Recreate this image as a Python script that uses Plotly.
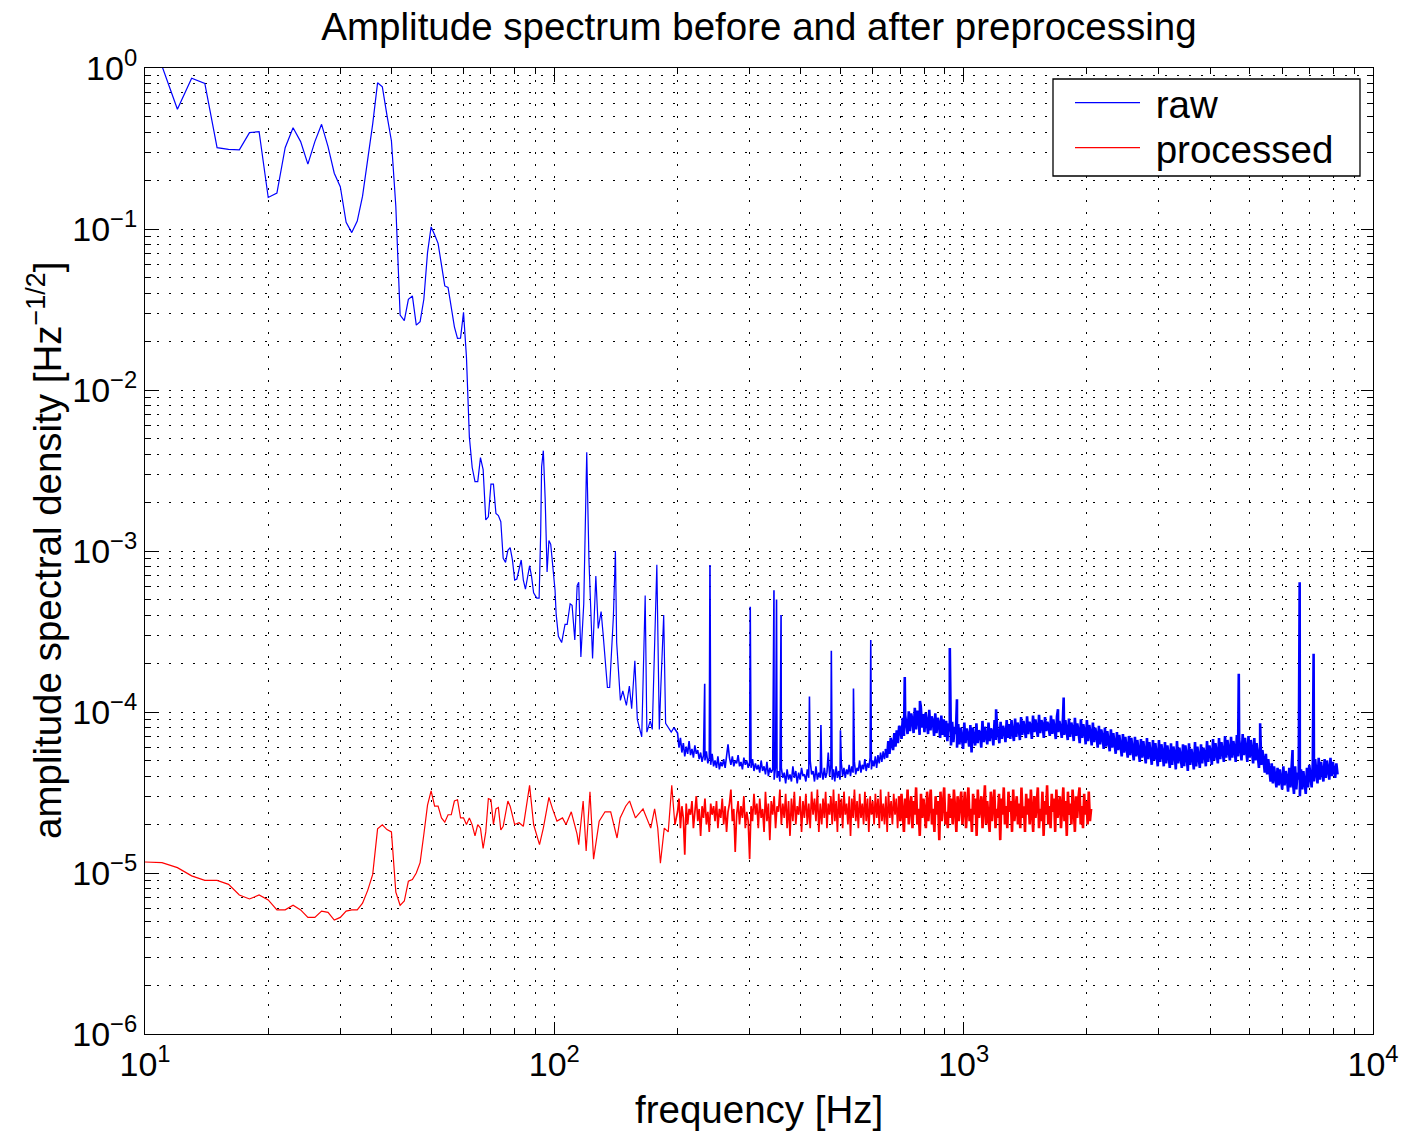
import numpy as np
import plotly.graph_objects as go

# ---------------- raw spectrum ----------------
# low-frequency part, read point by point (Hz, Hz^-1/2)
RAW_LF_FREQ = [10, 11, 12, 13, 14, 15, 16, 17, 18, 19, 20, 21, 22, 23, 24, 25, 26, 27, 28, 29,
               30, 31, 32, 33, 34, 35, 36, 37, 38, 39, 40, 41, 42, 43, 44, 45, 46, 47, 48, 49,
               50, 51, 52, 53, 54, 55, 56, 57, 58, 59, 60, 61, 62, 63, 64, 65, 66, 67, 68, 69,
               70, 71, 72, 73, 74, 75, 76, 77, 78, 79, 80, 81, 83, 84, 85, 87, 88, 89, 90.6, 91.8,
               92.6, 93.1, 94, 95, 96, 97, 98, 99.4, 100.4, 101, 102.3, 104.2, 106.2, 107.5, 109.3,
               110.5, 112.2, 113.7, 114.7, 116.1, 118, 120, 121.5, 124, 126.3, 128, 130.1, 131.5,
               134.8, 136.5, 139.4, 141, 142, 145, 147, 150, 152.5, 154.5, 157.3, 159.5, 161.6,
               163.5, 166.7, 168.3, 171.5, 173.5, 178, 180.5, 182, 185, 187, 190, 193, 196]
RAW_LF_ASD = [1.6, 1.03, 0.554, 0.863, 0.803, 0.320, 0.312, 0.310, 0.397, 0.402, 0.157, 0.167,
              0.320, 0.426, 0.349, 0.253, 0.349, 0.447, 0.325, 0.222, 0.183, 0.110, 0.095, 0.112,
              0.160, 0.262, 0.45, 0.81, 0.765, 0.51, 0.352, 0.138, 0.0292, 0.027, 0.0366, 0.0384,
              0.0253, 0.0266, 0.0366, 0.0713, 0.103, 0.092, 0.0815, 0.0598, 0.0443, 0.0434, 0.033,
              0.0247, 0.0209, 0.021, 0.0304, 0.0160, 0.0051, 0.0033, 0.0027, 0.0027, 0.0038, 0.0032,
              0.00156, 0.00163, 0.0026, 0.0026, 0.00171, 0.00166, 0.00152, 0.0009, 0.00085, 0.00101,
              0.00105, 0.00088, 0.00066, 0.00067, 0.00088, 0.00066, 0.00058, 0.00081, 0.00069,
              0.00055, 0.00051, 0.00051, 0.00129, 0.00334, 0.0042, 0.00207, 0.00074, 0.00116,
              0.0011, 0.00073, 0.00057, 0.00041, 0.000295, 0.00027, 0.00035, 0.00035, 0.00047,
              0.00046, 0.00028, 0.00061, 0.00064, 0.00022, 0.00047, 0.0041, 0.00088, 0.000215,
              0.00070, 0.00033, 0.00042, 0.00031, 0.000142, 0.000142, 0.00039, 0.00100, 0.00027,
              0.000118, 0.000135, 0.00011, 0.000145, 0.000105, 0.000208, 0.00009, 0.000077,
              0.00007, 0.00053, 0.000075, 0.000088, 0.000078, 0.00082, 0.000078, 0.00014, 0.00040,
              0.000085, 0.00008, 0.000075, 0.00008]

# dense part: band edges (Hz) and the noisy values read across each band
# (units of 1e-5 Hz^-1/2)
RAW_BAND_EDGES = [200, 300, 450, 650, 900, 1300, 2000, 3000, 4500, 6000, 8192]
RAW_BAND_E5 = [
    [7.4, 6.0, 6.9, 5.6, 6.4, 5.3, 6.1, 5.5, 6.6, 5.4, 5.9, 5.2, 6.2, 5.5, 5.8, 5.1, 5.6, 4.9,
     5.4, 5.0, 5.7, 4.8, 5.2, 4.7, 5.5, 4.6, 5.0, 4.5, 5.3, 4.4, 4.9, 4.6, 5.1, 4.5, 5.6, 6.3,
     5.2, 4.7, 5.3, 4.6, 5.0, 4.8, 5.4, 4.6, 4.9, 4.4, 5.2, 4.7, 5.0, 4.5],
    [4.9, 4.5, 5.1, 4.3, 4.8, 4.4, 4.7, 4.2, 5.0, 4.3, 4.6, 4.1, 4.9, 4.0, 4.5, 4.2, 4.4, 3.8,
     4.6, 3.9, 4.3, 3.7, 4.5, 3.9, 4.2, 3.6, 4.4, 3.8, 4.1, 3.7, 4.6, 3.9, 4.3, 3.6, 4.2, 3.8,
     4.5, 4.0, 4.1, 3.7, 4.4, 3.9, 5.0, 4.1, 4.3, 3.7, 4.6, 3.8, 4.2, 3.9],
    [4.3, 3.8, 4.5, 3.9, 4.2, 5.6, 4.0, 4.7, 3.8, 4.4, 3.7, 4.6, 3.9, 4.3, 3.8, 4.8, 4.0, 4.5,
     3.9, 4.4, 4.1, 4.7, 4.0, 4.6, 4.2, 4.9, 4.1, 4.5, 4.3, 5.0, 4.2, 4.7, 4.4, 5.1, 4.3, 4.8,
     4.5, 5.2, 4.4, 5.0, 4.6, 5.3, 4.5, 5.4, 4.8, 5.6, 4.9, 5.7, 5.1, 5.9],
    [5.2, 6.6, 5.5, 6.9, 6.2, 5.8, 7.4, 6.1, 7.7, 6.4, 8.2, 7.9, 6.8, 9.2, 7.1, 9.6, 8.4, 7.3,
     10.1, 7.6, 9.8, 8.9, 7.4, 10.6, 7.8, 10.2, 9.1, 7.2, 10.8, 8.0, 9.7, 7.5, 9.9, 8.6, 7.3,
     10.3, 7.7, 9.4, 8.8, 7.1, 9.8, 7.4, 9.2, 8.5, 6.9, 9.5, 7.2, 9.0],
    [7.0, 8.8, 6.6, 8.5, 7.6, 6.2, 8.7, 6.5, 8.1, 7.3, 6.0, 8.4, 6.3, 8.0, 7.1, 5.9, 8.6, 6.4,
     7.9, 7.2, 6.1, 8.3, 5.6, 8.0, 6.8, 6.2, 8.5, 6.4, 7.7, 7.4, 6.0, 8.8, 6.5, 8.1, 7.0, 6.3,
     8.6, 6.6, 7.9, 7.5, 6.2, 8.9, 6.7, 8.3, 7.2, 6.4, 8.7, 6.8, 8.2, 7.6, 6.5, 8.9, 6.9, 8.4],
    [6.8, 8.9, 7.4, 6.6, 9.1, 7.0, 8.6, 8.0, 6.7, 9.3, 7.2, 8.8, 7.8, 6.9, 9.4, 7.3, 8.7, 8.2,
     6.8, 9.5, 7.5, 9.0, 7.9, 7.0, 9.6, 7.4, 8.9, 8.3, 6.9, 9.3, 7.6, 8.7, 8.1, 7.1, 9.5, 7.3,
     9.0, 7.8, 6.8, 9.4, 7.5, 8.8, 8.0, 6.9, 9.2, 7.2, 8.9, 7.7, 6.7, 9.1, 7.0, 8.6, 7.9, 6.6,
     9.2, 7.1, 8.5, 7.5, 6.4, 9.0, 6.9, 8.4, 7.6, 6.3],
    [8.9, 6.6, 8.3, 7.4, 6.2, 8.6, 6.5, 8.0, 7.2, 6.0, 8.2, 6.3, 7.8, 7.0, 5.9, 8.0, 6.1, 7.6,
     6.8, 5.7, 7.8, 6.0, 7.4, 6.6, 5.5, 7.5, 5.8, 7.2, 6.4, 5.3, 7.3, 5.6, 7.0, 6.2, 5.2, 7.1,
     5.4, 6.9, 6.0, 5.0, 7.0, 5.3, 6.7, 5.9, 4.9, 6.8, 5.2, 6.6, 5.8, 4.8, 6.9, 5.1, 6.5, 5.7,
     4.7, 6.7, 5.0, 6.4, 5.6, 4.6],
    [6.7, 4.9, 6.3, 5.6, 4.6, 6.5, 4.8, 6.2, 5.4, 4.5, 6.4, 4.7, 6.1, 5.5, 4.4, 6.6, 4.8, 6.0,
     5.3, 4.5, 6.3, 4.6, 6.2, 5.4, 4.3, 6.4, 4.7, 5.9, 5.2, 4.4, 6.5, 4.6, 6.1, 5.3, 4.5, 6.3,
     4.8, 6.0, 5.5, 4.6, 6.6, 4.9, 6.2, 5.6, 4.7, 6.8, 5.0, 6.4, 5.7, 4.8, 6.9, 5.1, 6.5, 5.8,
     4.9, 7.1, 5.2, 6.7, 5.9, 5.0],
    [7.0, 5.2, 6.6, 5.9, 4.9, 7.2, 5.3, 6.8, 6.0, 5.0, 7.3, 5.4, 6.9, 5.8, 4.9, 7.1, 5.2, 6.7,
     5.7, 4.8, 6.9, 5.0, 6.4, 5.4, 4.5, 6.2, 4.7, 5.8, 5.0, 4.2, 5.5, 4.1, 5.1, 4.4, 3.7, 4.8,
     3.6, 4.6, 4.0, 3.4, 4.5, 3.5, 4.4, 3.8],
    [3.3, 4.6, 3.5, 4.3, 3.9, 3.2, 4.5, 3.4, 4.4, 3.7, 3.1, 4.6, 3.3, 4.2, 3.8, 3.0, 4.4, 3.3,
     4.3, 3.6, 3.1, 4.5, 3.4, 4.7, 3.9, 3.4, 4.9, 3.7, 5.1, 4.2, 3.6, 5.2, 3.8, 4.9, 4.3, 3.7,
     5.1, 3.9, 5.0, 4.4, 3.8, 5.2, 4.0, 4.9, 4.3, 3.9, 4.8, 4.1],
]
# narrow spectral lines standing out of the raw band (Hz, 1e-5 Hz^-1/2)
RAW_LINE_FREQ = [233, 240, 301, 344, 349, 358, 420, 448, 475, 500, 538, 593, 718, 782, 925, 963,
                 1200, 1700, 1755, 4700, 5300, 6360, 6620, 7160]
RAW_LINE_E5 = [15, 82, 45, 57, 50, 40, 12.5, 8.3, 24, 7.7, 14, 28, 16.5, 11.7, 25, 12, 10.4, 10.4,
               12.3, 17.3, 8.5, 5.8, 64, 23]

# ---------------- processed spectrum ----------------
PROC_LF_FREQ = [10, 11, 12, 13, 14, 15, 16, 17, 18, 19, 20, 21, 22, 23, 24, 25, 26, 27, 28, 29,
                30, 31, 32, 33, 34, 35, 36, 37, 38, 39, 40, 41, 42, 43, 44, 45, 46, 47, 48, 49,
                50, 51, 52, 53, 54, 55, 56, 57, 58, 59, 60, 61, 62, 63, 64, 65, 66, 67, 68, 69,
                70, 71, 72, 73, 74, 75, 77, 78, 80, 82, 84, 87, 89, 92, 94, 97, 99, 101.5, 104.7,
                106.8, 110, 113.6, 114.7, 117.6, 119.6, 122.2, 124.7, 128.7, 133, 137.3, 142.3,
                144.8, 149.4, 152.7, 157.8, 164.7, 172, 175.8, 178.9, 181.6, 185.6, 189.8, 193.6, 197]
PROC_LF_ASD = [1.17e-5, 1.16e-5, 1.08e-5, 9.6e-6, 9.0e-6, 9.0e-6, 8.5e-6, 7.3e-6, 6.9e-6, 7.3e-6,
               6.8e-6, 5.9e-6, 5.9e-6, 6.3e-6, 5.9e-6, 5.3e-6, 5.3e-6, 5.8e-6, 5.7e-6, 5.1e-6,
               5.3e-6, 5.8e-6, 5.9e-6, 5.9e-6, 6.5e-6, 7.8e-6, 9.8e-6, 1.88e-5, 1.99e-5, 1.86e-5,
               1.8e-5, 7.6e-6, 6.3e-6, 6.7e-6, 8.9e-6, 9.1e-6, 1.0e-5, 1.16e-5, 1.74e-5, 2.64e-5,
               3.24e-5, 2.6e-5, 2.6e-5, 2.2e-5, 2.07e-5, 2.3e-5, 2.3e-5, 2.8e-5, 2.85e-5, 2.2e-5,
               2.2e-5, 2.0e-5, 2.2e-5, 1.99e-5, 1.7e-5, 2.0e-5, 1.9e-5, 1.42e-5, 1.8e-5, 2.9e-5,
               2.85e-5, 2.0e-5, 2.5e-5, 2.55e-5, 1.85e-5, 1.95e-5, 2.8e-5, 2.6e-5, 2.0e-5, 2.05e-5,
               1.95e-5, 3.5e-5, 2.0e-5, 1.5e-5, 1.9e-5, 2.95e-5, 2.5e-5, 2.1e-5, 2.2e-5, 2.0e-5,
               2.4e-5, 1.75e-5, 1.5e-5, 2.8e-5, 1.37e-5, 3.2e-5, 1.22e-5, 2.1e-5, 2.4e-5, 2.4e-5,
               1.65e-5, 2.2e-5, 2.6e-5, 2.8e-5, 2.2e-5, 2.5e-5, 1.9e-5, 2.5e-5, 1.9e-5, 1.15e-5,
               1.9e-5, 1.8e-5, 3.5e-5, 2.0e-5]
PROC_BAND_EDGES = [200, 300, 450, 700, 1000, 1450, 2048]
PROC_BAND_E5 = [
    [2.4, 2.9, 1.9, 2.6, 2.2, 1.3, 2.7, 2.0, 2.5, 2.3, 2.8, 1.9, 2.4, 3.0, 2.1, 2.5, 1.7, 2.6,
     2.2, 2.9, 2.0, 2.4, 1.8, 2.7, 2.3, 2.6, 2.1, 2.8, 1.9, 2.5, 2.2, 2.9, 2.0, 2.6, 1.8, 2.4,
     2.7, 3.3, 2.1, 2.5, 1.35, 2.3, 2.8, 2.0, 2.6, 2.2, 3.0, 1.9, 2.4, 2.1],
    [1.22, 2.6, 2.1, 3.1, 2.3, 2.7, 1.9, 2.9, 2.2, 2.5, 1.8, 3.2, 2.1, 2.7, 1.6, 2.8, 2.3, 3.0,
     1.9, 2.6, 2.4, 3.3, 2.0, 2.7, 2.2, 3.1, 1.9, 2.8, 1.7, 2.9, 2.1, 3.2, 2.0, 2.6, 2.3, 3.0,
     1.8, 2.8, 2.2, 3.1, 2.0, 2.7, 1.9, 3.2, 2.3, 2.9, 2.1, 3.3, 1.8, 2.7],
    [2.0, 2.9, 2.2, 3.2, 1.9, 2.7, 2.3, 3.0, 2.0, 3.3, 2.1, 2.8, 1.8, 3.1, 2.2, 2.9, 1.9, 3.2,
     2.3, 2.7, 2.0, 3.0, 1.7, 2.9, 2.2, 3.3, 2.1, 2.8, 1.9, 3.1, 2.2, 2.7, 2.0, 3.2, 2.1, 2.9,
     1.8, 3.0, 2.3, 2.8, 2.0, 3.1, 2.2, 2.9, 1.9, 3.3, 2.1, 2.7, 2.0, 3.0, 1.8, 3.2, 2.2, 2.8,
     2.0, 3.1, 2.3, 2.9, 1.9, 3.0],
    [2.1, 3.1, 2.4, 1.8, 2.9, 2.2, 3.3, 2.0, 2.6, 3.0, 1.9, 2.8, 2.3, 3.4, 2.0, 2.5, 1.7, 3.1,
     2.2, 2.9, 2.4, 1.9, 3.2, 2.1, 2.7, 3.3, 2.0, 2.5, 1.8, 3.0, 2.3, 2.8, 1.6, 3.2, 2.1, 2.6,
     3.4, 2.0, 2.4, 1.9, 3.1, 2.2, 2.9, 2.0, 3.3, 2.5, 1.8, 3.0, 2.1, 2.7, 3.2, 2.0],
    [2.4, 3.2, 1.9, 2.7, 3.4, 2.1, 2.5, 1.8, 3.1, 2.3, 2.9, 1.7, 3.3, 2.2, 2.6, 3.0, 1.9, 2.4,
     3.5, 2.0, 2.8, 2.2, 1.8, 3.2, 2.1, 2.7, 3.3, 1.9, 2.5, 2.2, 3.1, 1.6, 2.9, 2.3, 3.4, 2.0,
     2.6, 1.9, 3.2, 2.4, 2.8, 1.8, 3.3, 2.1, 2.5, 3.0, 2.0, 2.7, 1.9, 3.4, 2.2, 2.6, 1.8, 3.1,
     2.3, 2.9],
    [2.0, 3.3, 2.4, 1.8, 3.0, 2.2, 2.7, 3.4, 1.9, 2.5, 2.1, 3.2, 1.7, 2.8, 2.3, 3.5, 2.0, 2.6,
     1.9, 3.1, 2.4, 2.9, 1.8, 3.3, 2.2, 2.6, 3.0, 1.9, 2.4, 3.4, 2.1, 2.8, 1.7, 3.2, 2.3, 2.7,
     2.0, 3.3, 2.5, 1.8, 3.0, 2.2, 2.9, 3.4, 2.0, 2.6, 1.9, 3.1, 2.3, 2.8, 2.0, 3.2, 2.1, 2.5],
]

# stroke tiers: (frequency where the tier starts, line width); the line gets denser upwards
RAW_TIERS = [(0, 1.2), (200, 1.6), (650, 2.6)]
PROC_TIERS = [(0, 1.2), (200, 1.7), (700, 2.6)]

X_TICKS = [10, 100, 1000, 10000]
X_TICKTEXT = ["10<sup>1</sup>", "10<sup>2</sup>", "10<sup>3</sup>", "10<sup>4</sup>"]
Y_TICKS = [1e-6, 1e-5, 1e-4, 1e-3, 1e-2, 1e-1, 1]
Y_TICKTEXT = ["10<sup>−6</sup>", "10<sup>−5</sup>", "10<sup>−4</sup>", "10<sup>−3</sup>",
              "10<sup>−2</sup>", "10<sup>−1</sup>", "10<sup>0</sup>"]


def assemble(lf_f, lf_v, edges, bands, line_f=(), line_v=()):
    f = list(lf_f)
    v = list(lf_v)
    for i, vals in enumerate(bands):
        last = i == len(bands) - 1
        fs = np.geomspace(edges[i], edges[i + 1], len(vals), endpoint=last)
        f.extend(fs.tolist())
        v.extend((np.array(vals) * 1e-5).tolist())
    f.extend(line_f)
    v.extend((np.array(line_v, dtype=float) * 1e-5).tolist())
    order = np.argsort(f, kind="stable")
    return np.array(f)[order], np.array(v)[order]


raw_f, raw_v = assemble(RAW_LF_FREQ, RAW_LF_ASD, RAW_BAND_EDGES, RAW_BAND_E5,
                        RAW_LINE_FREQ, RAW_LINE_E5)
proc_f, proc_v = assemble(PROC_LF_FREQ, PROC_LF_ASD, PROC_BAND_EDGES, PROC_BAND_E5)

FONT = "Liberation Sans, Arial, Helvetica, sans-serif"
BIG = 38.5
BLUE, RED = "#0000ff", "#ff0000"

fig = go.Figure()


def add_series(f, v, tiers, name, color, legend):
    starts = [int(np.searchsorted(f, hz)) for hz, _ in tiers] + [len(f)]
    for i, (_, width) in enumerate(tiers):
        a = max(starts[i] - 1, 0)          # share one sample with the previous tier
        b = starts[i + 1]
        fig.add_trace(go.Scatter(x=f[a:b], y=v[a:b], mode="lines", name=name,
                                 legend=legend, legendgroup=name, showlegend=(i == 0),
                                 line=dict(color=color, width=width)))


add_series(raw_f, raw_v, RAW_TIERS, "\u00a0raw", BLUE, "legend")
add_series(proc_f, proc_v, PROC_TIERS, "\u00a0processed", RED, "legend2")

minor_x = [m * 10 ** k for k in range(1, 4) for m in range(2, 10)]
minor_y = [m * 10.0 ** k for k in range(-6, 0) for m in range(2, 10)]

axis_common = dict(
    showline=True, linecolor="black", linewidth=1, mirror="allticks",
    ticks="inside", ticklen=12, tickcolor="black", tickwidth=1,
    showgrid=True, gridcolor="black", gridwidth=1, griddash="2px,10px",
    zeroline=False, automargin=False,
    tickfont=dict(family=FONT, size=34, color="black"),
)
minor_common = dict(tickmode="array", ticks="inside", ticklen=6, tickcolor="black",
                    showgrid=True, gridcolor="black", gridwidth=1, griddash="2px,10px")

fig.update_xaxes(type="log", range=[1, 4], tickmode="array", tickvals=X_TICKS,
                 ticktext=X_TICKTEXT, minor=dict(tickvals=minor_x, **minor_common),
                 **axis_common)
fig.update_yaxes(type="log", range=[-6, 0], tickmode="array", tickvals=Y_TICKS,
                 ticktext=Y_TICKTEXT, minor=dict(tickvals=minor_y, **minor_common),
                 **axis_common)

PX_L, PX_R, PX_T, PX_B = 145, 1373, 68, 1034
PW, PH = PX_R - PX_L, PX_B - PX_T


def px_x(x):
    return (x - PX_L) / PW


def px_y(y):
    return 1 - (y - PX_T) / PH


legend_common = dict(x=px_x(1070), xanchor="left", yanchor="top",
                     bgcolor="rgba(0,0,0,0)", borderwidth=0,
                     font=dict(family=FONT, size=BIG, color="black"), itemwidth=65)

fig.update_layout(
    width=1406, height=1132,
    margin=dict(l=PX_L, r=1406 - PX_R, t=PX_T, b=1132 - PX_B, autoexpand=False),
    paper_bgcolor="white", plot_bgcolor="white",
    font=dict(family=FONT, color="black"),
    title=dict(text="Amplitude spectrum before and after preprocessing",
               font=dict(family=FONT, size=BIG, color="black"),
               x=0.5, xref="paper", xanchor="center",
               y=1 - 27 / 1132, yref="container", yanchor="middle"),
    legend=dict(y=px_y(71), **legend_common),
    legend2=dict(y=px_y(116), **legend_common),
    showlegend=True,
    shapes=[dict(type="rect", xref="paper", yref="paper",
                 x0=px_x(1053), x1=px_x(1360), y0=px_y(176), y1=px_y(79),
                 fillcolor="white", line=dict(color="black", width=1.3), layer="above")],
    annotations=[
        dict(text="frequency [Hz]", xref="paper", yref="paper", x=0.5,
             y=px_y(1109), xanchor="center", yanchor="middle",
             showarrow=False, font=dict(family=FONT, size=BIG, color="black")),
        dict(text="amplitude spectral density [Hz<sup>−1/2</sup>]", xref="paper",
             yref="paper", x=px_x(45), y=0.5, xanchor="center",
             yanchor="middle", textangle=-90, showarrow=False,
             font=dict(family=FONT, size=BIG, color="black")),
    ],
)

fig.write_html("out.html")
